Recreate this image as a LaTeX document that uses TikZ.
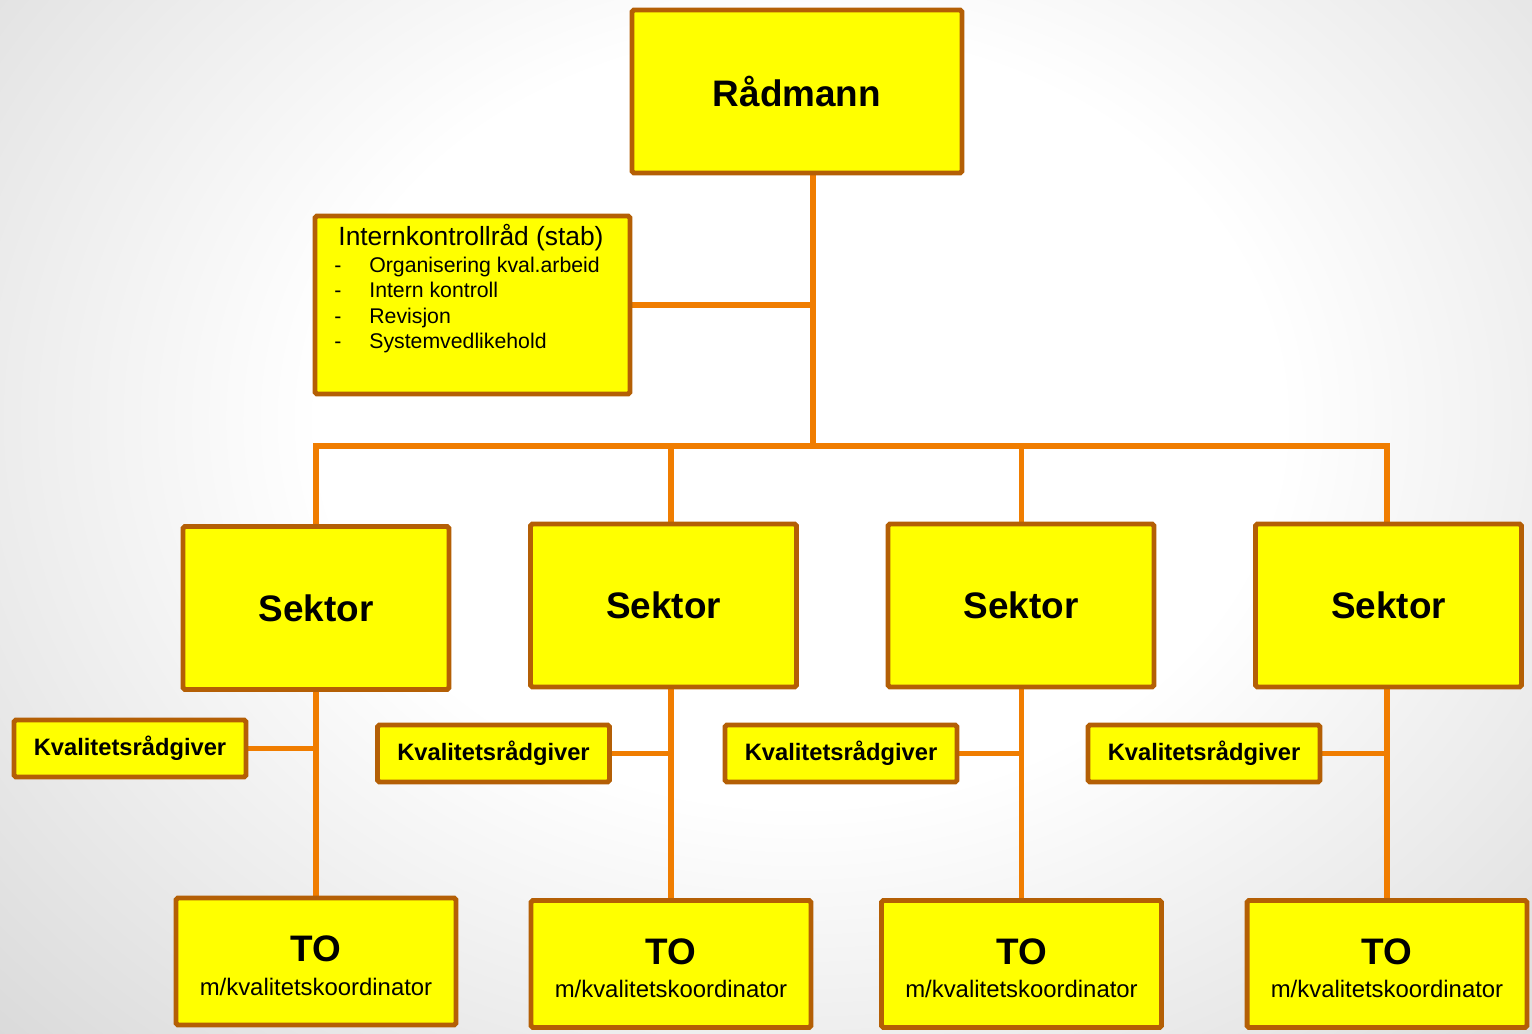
\documentclass[tikz,border=0pt]{standalone}
\usepackage{fontspec}
\setmainfont{Liberation Sans}
\usetikzlibrary{backgrounds}

\definecolor{boxedge}{RGB}{180,95,5}
\definecolor{linkorange}{RGB}{240,125,0}
\definecolor{boxfill}{RGB}{255,255,0}
\pgfdeclareradialshading{bgglow}{\pgfpoint{0bp}{0bp}}{color(0bp)=(white); color(12bp)=(white); color(42bp)=(gray!55); color(50bp)=(gray!60)}

\tikzset{
  orgbox/.style={draw=boxedge, fill=boxfill, line width=2.8pt, rounded corners=1pt, inner sep=0pt, align=center},
  sektorbox/.style={orgbox, minimum width=5.32cm, minimum height=3.26cm, font=\bfseries\fontsize{21}{25}\selectfont},
  kvbox/.style={orgbox, minimum width=4.64cm, minimum height=1.14cm, font=\bfseries\fontsize{13.5}{16}\selectfont},
  tobox/.style={orgbox, minimum width=5.6cm, minimum height=2.54cm, font=\fontsize{13.6}{19}\selectfont},
  listtext/.style={anchor=base west, inner sep=0pt, font=\fontsize{12.1}{14.6}\selectfont},
  link/.style={draw=linkorange, line width=3.4pt},
}

\begin{document}
\begin{tikzpicture}[x=0.02cm, y=-0.02cm]
  \useasboundingbox (0,0) rectangle (1532,1034);

  % Top level
  \node[orgbox, minimum width=6.6cm, minimum height=3.26cm, font=\bfseries\fontsize{21}{25}\selectfont] (raad) at (797,91.5) {Rådmann};

  % Staff box
  \node[orgbox, minimum width=6.3cm, minimum height=3.56cm] (ik) at (472.5,305) {};
  \node[anchor=base, inner sep=0pt, font=\fontsize{15}{18}\selectfont] (iktitle) at (471,245) {Internkontrollråd (stab)};
  \foreach \txt [count=\i] in {Organisering kval.arbeid, Intern kontroll, Revisjon, Systemvedlikehold} {
    \node[listtext] (dash\i) at (334,{272+25.5*(\i-1)}) {-};
    \node[listtext] (item\i) at (369,{272+25.5*(\i-1)}) {\txt};
  }

  % Sectors with advisers and units
  \foreach \i/\sx/\sy/\kx/\ky/\tx/\ty in {1/316/608/130/748.5/316/961.5, 2/663.5/605.5/493.5/753.5/671/964,
      3/1021/605.5/841/753.5/1021.5/964, 4/1388.5/605.5/1204/753.5/1387/964} {
    \node[sektorbox] (sek\i) at (\sx,\sy) {Sektor};
    \node[kvbox] (kv\i) at (\kx,\ky) {Kvalitetsrådgiver};
    \node[tobox] (to\i) at (\tx,\ty) {\rule{0pt}{19.5pt}{\bfseries\fontsize{21}{21}\selectfont TO}\\m/kvalitetskoordinator};
  }

  \begin{pgfonlayer}{background}
    % Background glow
    \begin{scope}
      \clip (0,0) rectangle (1532,1034);
      \shade[shading=bgglow] (-200,-380) rectangle (1800,1220);
    \end{scope}

    % Connectors
    \coordinate (bus) at (813,446);
    \draw[link] (raad.south -| bus) -- (bus);
    \draw[link] (ik.east) -- (ik.east -| bus);
    \draw[link] (to1.north |- sek1.north) |- (to4.north |- bus) -- (to4.north |- sek4.north);
    \foreach \i in {2,3} {
      \draw[link] (to\i.north |- bus) -- (to\i.north |- sek\i.north);
    }
    \foreach \i in {1,...,4} {
      \draw[link] (to\i.north |- sek\i.south) -- (to\i.north);
      \draw[link] (kv\i.east) -- (kv\i.east -| to\i.north);
    }
  \end{pgfonlayer}
\end{tikzpicture}
\end{document}
